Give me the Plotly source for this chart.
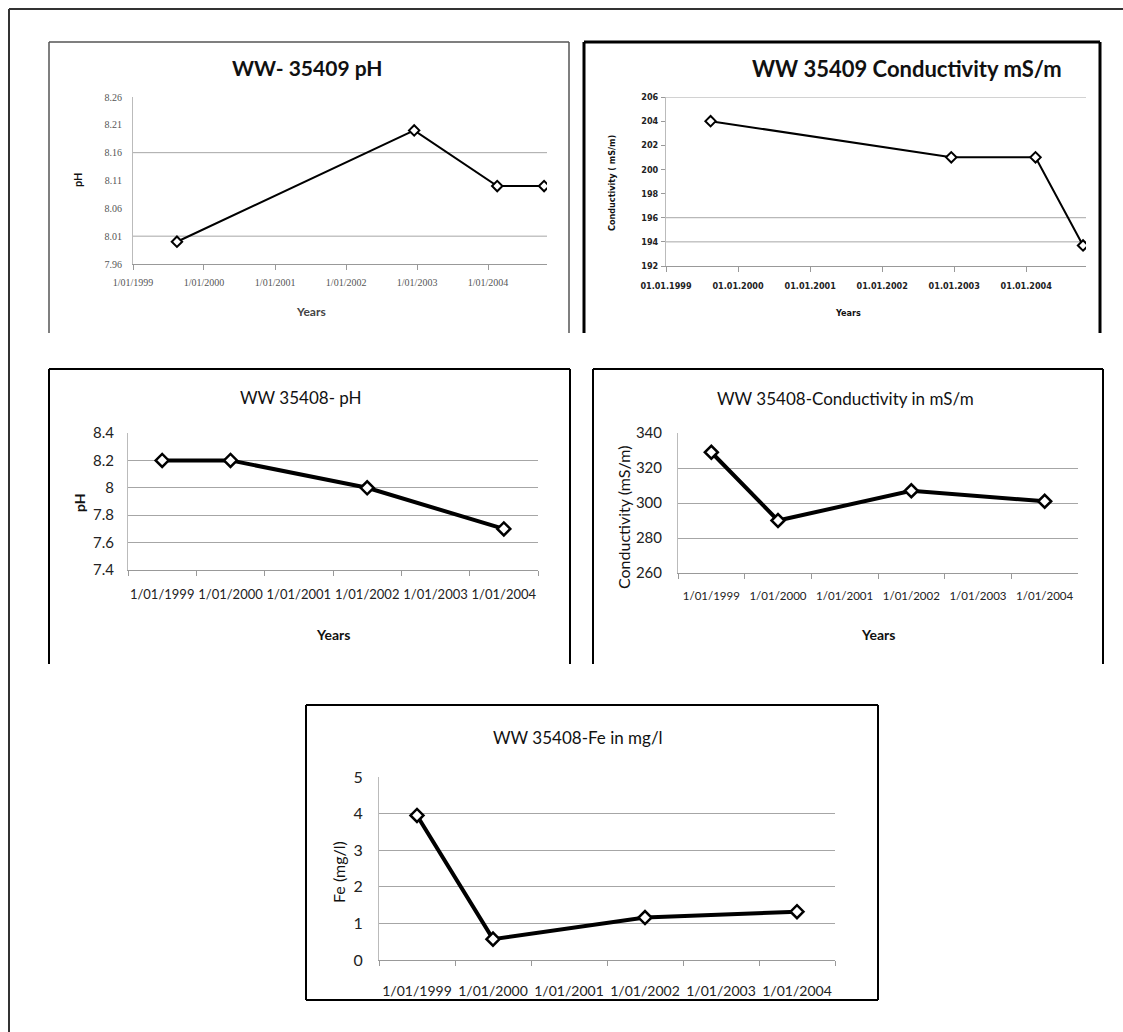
import plotly.graph_objects as go

W, H = 1123, 1032

# ---- WW 35409 (date axis) ----
dates_35409 = ["1999-08-15", "2002-12-17", "2004-02-17", "2004-10-15"]
ph_35409 = [8.00, 8.20, 8.10, 8.10]
cond_35409 = [204.0, 201.0, 201.0, 193.7]
year_ticks = ["1999-01-01", "2000-01-01", "2001-01-01", "2002-01-01", "2003-01-01", "2004-01-01"]
year_labels_slash = ["1/01/1999", "1/01/2000", "1/01/2001", "1/01/2002", "1/01/2003", "1/01/2004"]
year_labels_dot = ["01.01.1999", "01.01.2000", "01.01.2001", "01.01.2002", "01.01.2003", "01.01.2004"]
ph_35409_ticks = [7.96, 8.01, 8.06, 8.11, 8.16, 8.21, 8.26]
ph_35409_grid = [8.01, 8.16]
cond_35409_ticks = [192, 194, 196, 198, 200, 202, 204, 206]
cond_35409_grid = [194, 196, 206]

# ---- WW 35408 (category axis) ----
categories = ["1/01/1999", "1/01/2000", "1/01/2001", "1/01/2002", "1/01/2003", "1/01/2004"]
ph_35408 = [8.2, 8.2, None, 8.0, None, 7.7]
cond_35408 = [329, 290, None, 307, None, 301]
fe_35408 = [3.95, 0.57, None, 1.16, None, 1.32]

CAL = "Lato, 'Open Sans', sans-serif"
NARROW = "'DejaVu Sans Condensed', 'DejaVu Sans', sans-serif"
GRID = "#a6a6a6"


def px_x(v):
    return v / W


def px_y(v):
    return 1 - v / H


def dom_x(a, b):
    return [a / W, b / W]


def dom_y(top, bottom):
    return [1 - bottom / H, 1 - top / H]


fig = go.Figure()

fig.add_trace(go.Scatter(x=dates_35409, y=ph_35409, xaxis="x", yaxis="y", mode="lines+markers",
                         line=dict(color="black", width=2),
                         marker=dict(symbol="diamond", size=8, color="white", line=dict(color="black", width=2))))
fig.add_trace(go.Scatter(x=dates_35409, y=cond_35409, xaxis="x2", yaxis="y2", mode="lines+markers",
                         line=dict(color="black", width=2),
                         marker=dict(symbol="diamond", size=8, color="white", line=dict(color="black", width=2))))
for i, vals in ((3, ph_35408), (4, cond_35408), (5, fe_35408)):
    fig.add_trace(go.Scatter(x=categories, y=vals, xaxis=f"x{i}", yaxis=f"y{i}", mode="lines+markers",
                             connectgaps=True, line=dict(color="black", width=4),
                             marker=dict(symbol="diamond", size=10, color="white",
                                         line=dict(color="black", width=2.5))))

small_serif = dict(family="'Liberation Serif', serif", size=10, color="#555555")
narrow_bold = dict(family=NARROW, size=9, color="#222222", weight="bold")

common = dict(automargin=False, zeroline=False, tickangle=0)

layout = dict(
    template="none",
    width=W, height=H, margin=dict(l=0, r=0, t=0, b=0, pad=0, autoexpand=False),
    paper_bgcolor="white", plot_bgcolor="white", showlegend=False,
    # panel 1
    xaxis=dict(domain=dom_x(133, 547), anchor="y", type="date",
               range=["1999-01-01", "2004-10-30"], tickvals=year_ticks, ticktext=year_labels_slash,
               showgrid=False, showline=True, linecolor="#999999", linewidth=1,
               ticks="outside", ticklen=5, tickcolor="#999999", tickfont=small_serif,
               ticklabelstandoff=4, **common),
    yaxis=dict(domain=dom_y(97, 264), anchor="x", range=[7.96, 8.26], tickvals=ph_35409_ticks,
               tickformat=".2f", showgrid=False, showline=True, linecolor="#bbbbbb", linewidth=1,
               ticks="", tickfont=small_serif, ticklabelstandoff=8, **common),
    # panel 2
    xaxis2=dict(domain=dom_x(666, 1086), anchor="y2", type="date",
                range=["1999-01-01", "2004-10-30"], tickvals=year_ticks, ticktext=year_labels_dot,
                showgrid=False, showline=True, linecolor="#999999", linewidth=1,
                ticks="outside", ticklen=5, tickcolor="#999999", tickfont=narrow_bold,
                ticklabelstandoff=6, **common),
    yaxis2=dict(domain=dom_y(97, 266), anchor="x2", range=[192, 206], tickvals=cond_35409_ticks,
                showgrid=False, showline=True, linecolor="#bbbbbb", linewidth=1,
                ticks="outside", ticklen=4, tickcolor="#999999", tickfont=narrow_bold,
                ticklabelstandoff=1, **common),
    # panel 3
    xaxis3=dict(domain=dom_x(128, 538), anchor="y3", type="category", categoryarray=categories,
                range=[-0.5, 5.5], tickson="boundaries", ticks="outside", ticklen=5, tickcolor="#999999",
                showgrid=False, showline=True, linecolor="#999999", linewidth=1,
                tickfont=dict(family=CAL, size=13, color="#222222"), ticklabelstandoff=12, **common),
    yaxis3=dict(domain=dom_y(433, 570), anchor="x3", range=[7.4, 8.4], dtick=0.2, tick0=7.4,
                tickformat="~g", showgrid=True, gridcolor=GRID, gridwidth=1,
                showline=True, linecolor="#bbbbbb", ticks="",
                tickfont=dict(family=CAL, size=15, color="#222222"), ticklabelstandoff=10, **common),
    # panel 4
    xaxis4=dict(domain=dom_x(678, 1078), anchor="y4", type="category", categoryarray=categories,
                range=[-0.5, 5.5], tickson="boundaries", ticks="outside", ticklen=5, tickcolor="#999999",
                showgrid=False, showline=True, linecolor="#999999", linewidth=1,
                tickfont=dict(family=CAL, size=11.5, color="#222222"), ticklabelstandoff=12, **common),
    yaxis4=dict(domain=dom_y(433, 573), anchor="x4", range=[260, 340], dtick=20,
                showgrid=True, gridcolor=GRID, gridwidth=1,
                showline=True, linecolor="#bbbbbb", ticks="",
                tickfont=dict(family=CAL, size=15, color="#222222"), ticklabelstandoff=12, **common),
    # panel 5
    xaxis5=dict(domain=dom_x(379, 835), anchor="y5", type="category", categoryarray=categories,
                range=[-0.5, 5.5], tickson="boundaries", ticks="outside", ticklen=5, tickcolor="#999999",
                showgrid=False, showline=True, linecolor="#999999", linewidth=1,
                tickfont=dict(family=CAL, size=14, color="#222222"), ticklabelstandoff=18, **common),
    yaxis5=dict(domain=dom_y(777, 960), anchor="x5", range=[0, 5], dtick=1,
                showgrid=True, gridcolor=GRID, gridwidth=1,
                showline=True, linecolor="#bbbbbb", ticks="",
                tickfont=dict(family=CAL, size=16, color="#222222"), ticklabelstandoff=12, **common),
)

shapes = []
# selected gridlines on the WW 35409 panels
for v in ph_35409_grid:
    shapes.append(dict(type="line", xref="x domain", yref="y", x0=0, x1=1, y0=v, y1=v,
                       line=dict(color=GRID, width=1), layer="below"))
for v in cond_35409_grid:
    shapes.append(dict(type="line", xref="x2 domain", yref="y2", x0=0, x1=1, y0=v, y1=v,
                       line=dict(color=GRID, width=1), layer="below"))


def seg(x0, y0, x1, y1, color="black", width=2):
    shapes.append(dict(type="line", xref="paper", yref="paper",
                       x0=px_x(x0), y0=px_y(y0), x1=px_x(x1), y1=px_y(y1),
                       line=dict(color=color, width=width)))


# outer frame (top and left edges)
seg(9, 9, 1123, 9, "#333333", 2)
seg(9, 9, 9, 1032, "#333333", 2)
# panel frames (open at the bottom for the upper four)
for (l, t, r, b, c, w) in [(49, 42, 569, 333, "#555555", 1.5),
                           (584, 42, 1100, 333, "black", 3),
                           (49, 369, 570, 664, "black", 2),
                           (593, 369, 1103, 664, "black", 2)]:
    seg(l, t, r, t, c, w)
    seg(l, t, l, b, c, w)
    seg(r, t, r, b, c, w)
seg(306, 705, 878, 705)
seg(306, 705, 306, 1000)
seg(878, 705, 878, 1000)
seg(306, 1000, 878, 1000)

layout["shapes"] = shapes

ann = []


def text(x, y, s, size, bold=False, angle=0, family=CAL, color="#111111"):
    ann.append(dict(xref="paper", yref="paper", x=px_x(x), y=px_y(y), text=s, showarrow=False,
                    xanchor="center", yanchor="middle", textangle=angle,
                    font=dict(family=family, size=size, color=color, weight="bold" if bold else "normal")))


# titles
text(307, 67, "WW- 35409 pH", 21, bold=True)
text(907, 68, "WW 35409 Conductivity mS/m", 22, bold=True)
text(301, 397, "WW 35408- pH", 17)
text(845, 398, "WW 35408-Conductivity in mS/m", 17)
text(578, 737, "WW 35408-Fe in mg/l", 17)
# axis titles
text(78, 180, "pH", 11, bold=True, angle=-90)
text(311, 311, "Years", 12, bold=True, color="#444444")
text(612, 183, "Conductivity ( mS/m)", 9, bold=True, angle=-90, family=NARROW)
text(848, 313, "Years", 9, bold=True, family=NARROW)
text(79, 503, "pH", 14, bold=True, angle=-90)
text(333, 634, "Years", 14, bold=True)
text(623, 518, "Conductivity (mS/m)", 16, angle=-90)
text(878, 634, "Years", 14, bold=True)
text(338, 872, "Fe (mg/l)", 16, angle=-90)

layout["annotations"] = ann
fig.update_layout(**layout)
fig.write_html("out.html")
